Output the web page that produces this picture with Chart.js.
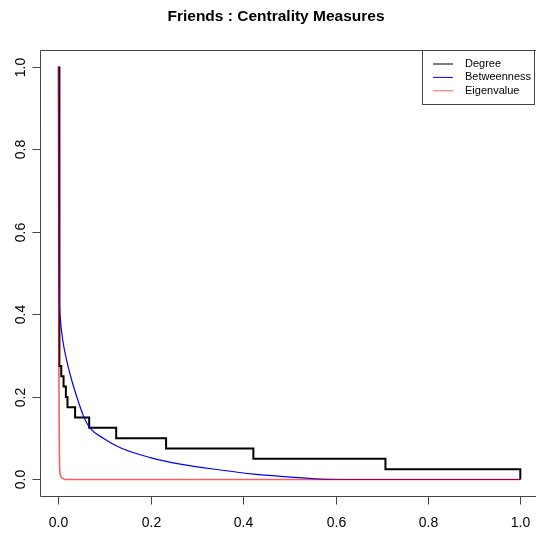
<!DOCTYPE html>
<html>
<head>
<meta charset="utf-8">
<title>Friends : Centrality Measures</title>
<script src="https://cdn.jsdelivr.net/npm/chart.js@4.4.1/dist/chart.umd.min.js"></script>
<style>
    html, body { margin: 0; padding: 0; background: #fff; overflow: hidden; }
</style>
</head>
<body>
<canvas id="centralityChart" width="536" height="540"></canvas>
<script>
        // Values (complementary cumulative curves)
        const chartTitle = 'Friends : Centrality Measures';
        const seriesNames = ['Degree', 'Betweenness', 'Eigenvalue'];
        const seriesColors = ['#000000', '#0000ff', 'rgba(235, 0, 0, 0.62)'];

        // Degree: step curve, levels are k/40
        const degreeX = [0.002, 0.002, 0.006, 0.011, 0.016, 0.0195, 0.036, 0.0665, 0.125, 0.233, 0.422, 0.708, 1.0];
        const degreeY = [1.0, 0.275, 0.25, 0.225, 0.2, 0.175, 0.15, 0.125, 0.1, 0.075, 0.05, 0.025, 0];

        // Betweenness: smooth decay
        const betweenX = [0, 0.0005, 0.002, 0.004, 0.0095, 0.018, 0.029, 0.040, 0.054, 0.068, 0.097, 0.134, 0.199, 0.264, 0.35, 0.423, 0.495, 0.567, 0.625, 1.0];
        const betweenY = [1.0, 0.6, 0.43, 0.39, 0.336, 0.287, 0.239, 0.199, 0.154, 0.125, 0.1, 0.077, 0.053, 0.037, 0.023, 0.013, 0.0065, 0.001, 0, 0];

        // Eigenvalue: drops almost at once
        const eigenX = [0, 0.001, 0.002, 0.0035, 0.006, 0.010, 0.0145, 1.0];
        const eigenY = [1.0, 0.25, 0.06, 0.014, 0.006, 0.002, 0, 0];

        // Axis ticks
        const xTicks = [0, 0.2, 0.4, 0.6, 0.8, 1.0];
        const xTickLabels = ['0.0', '0.2', '0.4', '0.6', '0.8', '1.0'];
        const yTicks = [0, 0.2, 0.4, 0.6, 0.8, 1.0];
        const yTickLabels = ['0.0', '0.2', '0.4', '0.6', '0.8', '1.0'];

        function toPoints(xs, ys) {
            return xs.map((x, i) => ({ x: x, y: ys[i] }));
        }

        const FONT = '"Liberation Sans", Arial, Helvetica, sans-serif';

        // R-style box, axes, title and legend
        const basePlotPlugin = {
            id: 'basePlot',
            afterDraw(chart) {
                const ctx = chart.ctx;
                const area = chart.chartArea;
                const xs = chart.scales.x;
                const ys = chart.scales.y;
                ctx.save();

                // plot box (right side falls off the canvas)
                ctx.strokeStyle = '#444';
                ctx.lineWidth = 1;
                ctx.beginPath();
                ctx.moveTo(chart.width + 2, Math.round(area.top) + 0.5);
                ctx.lineTo(Math.round(area.left) + 0.5, Math.round(area.top) + 0.5);
                ctx.lineTo(Math.round(area.left) + 0.5, Math.round(area.bottom) + 0.5);
                ctx.lineTo(chart.width + 2, Math.round(area.bottom) + 0.5);
                ctx.stroke();

                // x axis ticks + labels
                ctx.fillStyle = '#000';
                ctx.font = '14px ' + FONT;
                ctx.textAlign = 'center';
                ctx.textBaseline = 'alphabetic';
                const yb = Math.round(area.bottom) + 0.5;
                xTicks.forEach((v, i) => {
                    const px = Math.round(xs.getPixelForValue(v)) + 0.5;
                    ctx.beginPath();
                    ctx.moveTo(px, yb);
                    ctx.lineTo(px, yb + 8);
                    ctx.stroke();
                    ctx.fillText(xTickLabels[i], px, 527);
                });

                // y axis ticks + rotated labels
                const xl = Math.round(area.left) + 0.5;
                yTicks.forEach((v, i) => {
                    const py = Math.round(ys.getPixelForValue(v)) + 0.5;
                    ctx.beginPath();
                    ctx.moveTo(xl - 8, py);
                    ctx.lineTo(xl, py);
                    ctx.stroke();
                    ctx.save();
                    ctx.translate(25, py);
                    ctx.rotate(-Math.PI / 2);
                    ctx.fillText(yTickLabels[i], 0, 0);
                    ctx.restore();
                });

                // title
                ctx.font = 'bold 15.5px ' + FONT;
                ctx.fillText(chartTitle, 276, 21);

                // legend, top right
                const lx = 422.5, ly = 50.5, lw = 112, lh = 54;
                ctx.fillStyle = '#fff';
                ctx.fillRect(lx, ly, lw, lh);
                ctx.strokeStyle = '#444';
                ctx.strokeRect(lx, ly, lw, lh);
                ctx.font = '11px ' + FONT;
                ctx.textAlign = 'left';
                ctx.textBaseline = 'middle';
                chart.data.datasets.forEach((ds, i) => {
                    const ry = 64 + i * 13.4;
                    ctx.strokeStyle = ds.borderColor;
                    ctx.lineWidth = 1;
                    ctx.beginPath();
                    ctx.moveTo(433, ry);
                    ctx.lineTo(453, ry);
                    ctx.stroke();
                    ctx.fillStyle = '#000';
                    ctx.fillText(ds.label, 465, ry);
                });
                ctx.restore();
            }
        };

        const centralityCtx = document.getElementById('centralityChart').getContext('2d');
        new Chart(centralityCtx, {
            type: 'line',
            data: {
                datasets: [{
                    label: seriesNames[0],
                    data: toPoints(degreeX, degreeY),
                    borderColor: seriesColors[0],
                    borderWidth: 2,
                    stepped: 'before',
                    pointRadius: 0,
                    fill: false,
                    order: 3
                }, {
                    label: seriesNames[1],
                    data: toPoints(betweenX, betweenY),
                    borderColor: seriesColors[1],
                    borderWidth: 1.2,
                    cubicInterpolationMode: 'monotone',
                    pointRadius: 0,
                    fill: false,
                    order: 2
                }, {
                    label: seriesNames[2],
                    data: toPoints(eigenX, eigenY),
                    borderColor: seriesColors[2],
                    borderWidth: 1.6,
                    cubicInterpolationMode: 'monotone',
                    pointRadius: 0,
                    fill: false,
                    order: 1
                }]
            },
            options: {
                responsive: false,
                animation: false,
                devicePixelRatio: 1,
                layout: {
                    padding: { left: 40, top: 50, right: 0, bottom: 44 }
                },
                plugins: {
                    legend: { display: false },
                    title: { display: false },
                    tooltip: { enabled: false }
                },
                scales: {
                    x: { type: 'linear', min: -0.04, max: 1.034, display: false },
                    y: { type: 'linear', min: -0.04, max: 1.04, display: false }
                }
            },
            plugins: [basePlotPlugin]
        });
</script>
</body>
</html>
